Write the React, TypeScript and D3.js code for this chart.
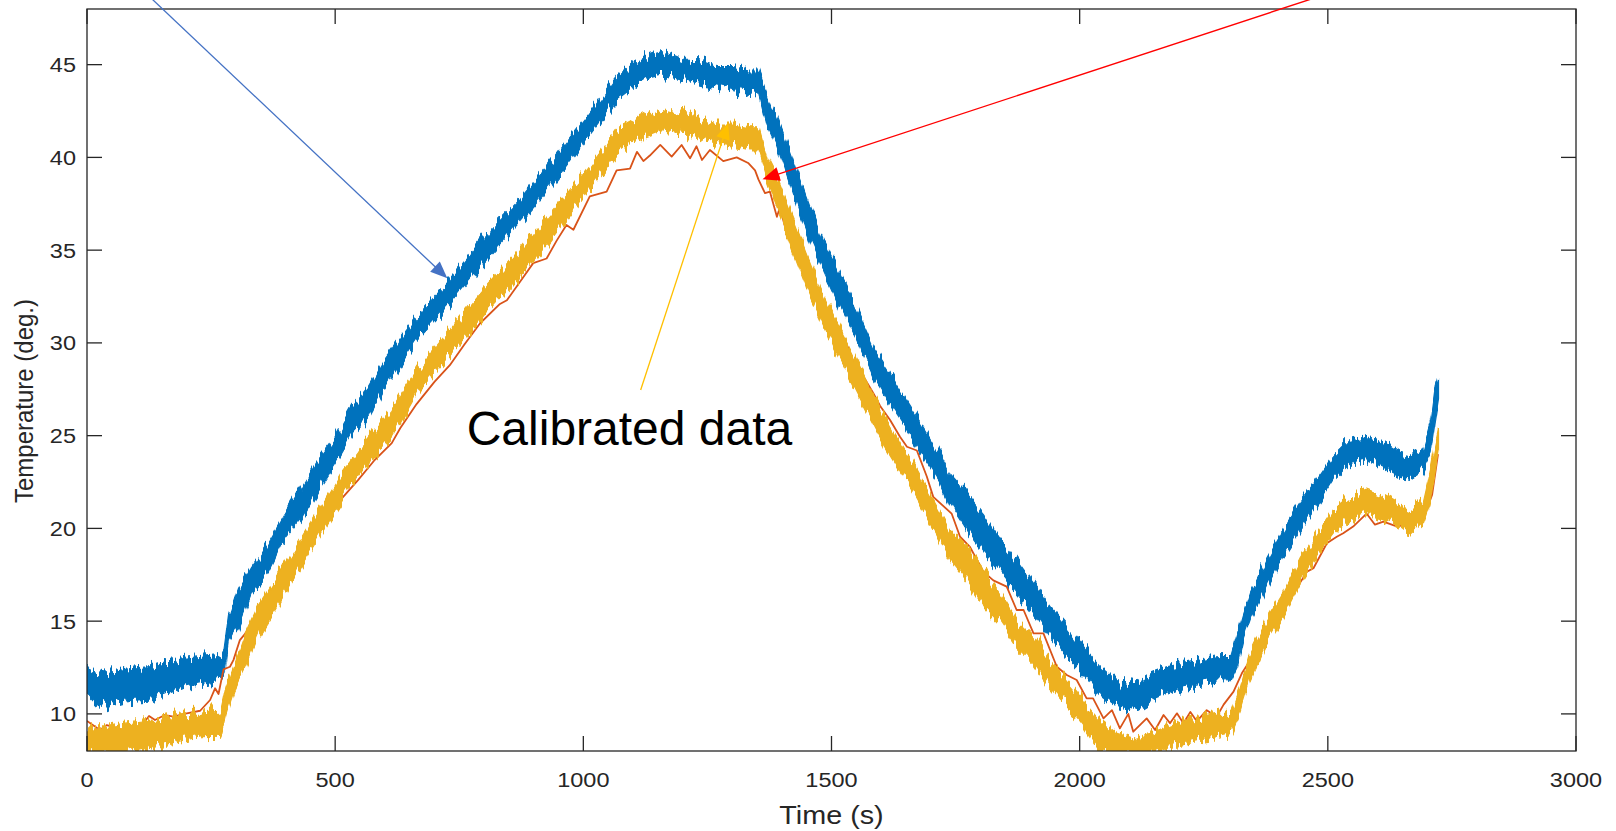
import React from "react";
import * as d3 from "d3";

// ---------- data ----------
const xTicks = [0, 500, 1000, 1500, 2000, 2500, 3000];
const yTicks = [10, 15, 20, 25, 30, 35, 40, 45];

// Raw sensor (blue): sampled time, upper and lower envelope of the noisy trace
const blueT = [0, 18, 36, 57, 77, 103, 130, 164, 197, 231, 265, 276, 285, 305, 332, 365, 399, 433, 466, 500, 533, 567, 597, 664, 731, 799, 866, 933, 1000, 1067, 1101, 1134, 1158, 1201, 1235, 1269, 1302, 1336, 1353, 1370, 1390, 1416, 1437, 1457, 1484, 1517, 1551, 1584, 1618, 1652, 1685, 1719, 1739, 1772, 1806, 1840, 1873, 1907, 1940, 1974, 2007, 2041, 2075, 2108, 2142, 2175, 2209, 2243, 2276, 2305, 2317, 2330, 2344, 2377, 2410, 2444, 2478, 2511, 2545, 2578, 2612, 2646, 2666, 2692, 2706, 2716, 2723];
const blueHi = [12.5, 12.3, 12.2, 12.3, 12.4, 12.5, 12.55, 12.8, 13.0, 13.1, 13.2, 13.3, 15.1, 16.7, 17.9, 19.2, 20.8, 22.25, 23.7, 24.9, 26.5, 27.6, 29.0, 31.4, 33.4, 35.7, 37.5, 39.7, 42.0, 44.35, 45.07, 45.5, 45.7, 45.25, 45.2, 44.9, 44.9, 44.7, 44.7, 43.45, 42.2, 40.4, 38.8, 37.3, 35.5, 33.75, 31.8, 29.8, 28.4, 26.9, 25.5, 24.0, 22.9, 21.9, 20.8, 19.37, 18.3, 17.04, 15.8, 14.7, 13.6, 12.54, 11.8, 11.65, 12.2, 12.54, 12.73, 12.9, 13.08, 13.1, 14.2, 15.4, 16.5, 18.3, 19.9, 21.35, 22.6, 23.9, 24.8, 25.0, 24.6, 24.05, 23.9, 24.2, 25.5, 27.5, 28.2];
const blueLo = [11.1, 10.6, 10.3, 10.5, 10.65, 10.7, 10.75, 11.1, 11.45, 11.65, 11.8, 12.0, 13.8, 14.7, 16.5, 17.6, 19.5, 20.6, 22.1, 23.5, 25.0, 26.0, 27.5, 30.16, 32.1, 34.3, 36.3, 38.4, 40.76, 43.1, 43.8, 44.35, 44.5, 44.2, 44.0, 43.8, 43.6, 43.45, 43.6, 41.8, 40.6, 38.6, 37.0, 35.5, 33.9, 31.95, 30.2, 28.2, 26.7, 25.3, 23.9, 22.5, 21.3, 19.9, 18.66, 17.6, 16.5, 15.4, 14.2, 13.1, 12.2, 11.1, 10.4, 10.2, 10.75, 11.1, 11.47, 11.65, 11.83, 11.85, 12.5, 14.0, 15.06, 16.86, 18.5, 19.9, 21.2, 22.6, 23.5, 23.7, 23.3, 22.8, 22.7, 23.15, 23.9, 25.8, 27.0];

// Calibrated data (yellow): time, upper and lower envelope
const yellowT = [0, 36, 77, 130, 164, 197, 231, 270, 280, 298, 318, 345, 379, 412, 446, 480, 513, 547, 580, 614, 664, 731, 799, 866, 933, 1000, 1067, 1101, 1158, 1201, 1269, 1302, 1336, 1353, 1370, 1396, 1423, 1450, 1477, 1504, 1537, 1571, 1604, 1638, 1672, 1705, 1739, 1772, 1806, 1840, 1873, 1907, 1940, 1974, 2007, 2041, 2075, 2108, 2142, 2175, 2209, 2243, 2276, 2305, 2323, 2344, 2377, 2410, 2444, 2478, 2511, 2545, 2578, 2612, 2646, 2666, 2692, 2706, 2716, 2723];
const yellowHi = [9.3, 9.3, 9.5, 9.67, 9.85, 10.05, 10.1, 10.2, 11.4, 12.7, 14.2, 15.8, 17.2, 18.66, 20.1, 21.5, 23.0, 24.2, 25.3, 26.4, 28.5, 30.7, 32.85, 34.8, 37.0, 39.1, 41.5, 42.0, 42.7, 42.4, 41.8, 41.8, 41.65, 41.65, 40.0, 38.6, 36.7, 34.8, 33.0, 31.5, 29.8, 27.9, 26.3, 24.7, 23.2, 21.6, 19.9, 19.0, 17.76, 16.5, 15.06, 14.2, 12.9, 11.8, 10.75, 9.67, 8.95, 8.7, 8.95, 9.3, 9.67, 9.85, 10.03, 10.03, 11.3, 13.27, 15.06, 16.5, 18.3, 19.7, 21.0, 21.7, 22.07, 21.7, 21.2, 21.0, 21.35, 23.0, 24.4, 25.3];
const yellowLo = [7.8, 7.8, 7.8, 8.16, 8.4, 8.6, 8.77, 8.8, 9.9, 11.4, 12.5, 14.2, 15.6, 17.2, 18.66, 20.1, 21.5, 22.8, 23.9, 24.9, 27.3, 29.3, 31.4, 33.4, 35.5, 37.9, 40.2, 40.9, 41.5, 41.3, 40.76, 40.6, 40.4, 40.4, 38.8, 36.9, 34.9, 33.0, 31.4, 29.8, 28.1, 26.3, 24.6, 23.1, 21.6, 20.0, 18.3, 17.2, 15.8, 14.9, 13.6, 12.7, 11.47, 10.4, 9.3, 7.9, 7.8, 7.8, 7.8, 8.2, 8.4, 8.6, 8.77, 8.95, 10.03, 11.83, 13.8, 15.24, 17.04, 18.5, 19.7, 20.45, 20.8, 20.45, 20.1, 19.7, 20.3, 21.35, 23.0, 24.2];

// Reference sensor (red)
const redT = [0, 26, 40, 73, 87, 107, 125, 137, 157, 174, 201, 228, 248, 258, 265, 275, 288, 295, 308, 318, 345, 379, 412, 446, 480, 513, 546, 580, 614, 631, 664, 700, 731, 760, 792, 832, 846, 870, 899, 926, 946, 966, 980, 1013, 1047, 1067, 1094, 1108, 1121, 1134, 1155, 1178, 1198, 1215, 1228, 1239, 1255, 1282, 1309, 1332, 1346, 1353, 1366, 1376, 1390, 1396, 1410, 1430, 1450, 1463, 1484, 1504, 1517, 1531, 1551, 1564, 1584, 1598, 1618, 1638, 1652, 1672, 1692, 1705, 1742, 1759, 1779, 1806, 1826, 1853, 1873, 1887, 1907, 1927, 1954, 1974, 1994, 2014, 2027, 2048, 2065, 2081, 2098, 2108, 2135, 2152, 2169, 2182, 2196, 2209, 2223, 2236, 2256, 2276, 2290, 2310, 2327, 2344, 2364, 2391, 2410, 2431, 2458, 2471, 2498, 2518, 2531, 2551, 2578, 2595, 2612, 2640, 2666, 2692, 2710, 2722];
const redV = [9.62, 9.13, 9.4, 9.13, 9.3, 9.27, 9.89, 9.67, 9.94, 9.85, 10.03, 10.17, 10.75, 11.38, 11.07, 12.4, 12.54, 12.9, 13.98, 14.3, 15.3, 16.7, 18.1, 19.5, 20.6, 21.6, 22.6, 23.7, 24.6, 25.4, 26.7, 27.9, 28.8, 29.9, 31.06, 32.1, 32.3, 33.2, 34.3, 34.55, 35.5, 36.36, 36.1, 37.9, 38.15, 39.3, 39.4, 40.3, 39.8, 40.1, 40.67, 40.04, 40.67, 39.95, 40.6, 39.86, 40.4, 39.8, 40.0, 39.7, 39.3, 38.8, 38.07, 38.15, 36.8, 37.3, 35.9, 34.65, 33.4, 32.67, 31.95, 31.06, 29.98, 29.9, 28.5, 28.2, 27.3, 26.6, 25.84, 24.94, 24.4, 24.2, 22.8, 21.7, 20.8, 19.55, 19.0, 17.67, 17.2, 16.86, 15.6, 15.6, 14.34, 14.34, 12.54, 12.1, 11.83, 10.84, 10.84, 9.76, 10.2, 9.22, 10.0, 9.04, 9.76, 9.13, 9.94, 9.5, 10.03, 9.5, 10.1, 9.6, 10.2, 9.85, 10.5, 11.2, 12.2, 12.9, 14.0, 14.7, 15.6, 16.5, 17.67, 17.85, 19.2, 19.55, 19.74, 20.1, 20.8, 20.2, 20.36, 20.1, 20.3, 20.5, 21.8, 24.0];

// Annotations, in data units: [tStart, vStart, tTip, vTip]
const blueArrow = [110, 49.07, 726, 33.48];
const redArrow = [2600, 49.71, 1361, 38.82];
const yellowArrow = [1115.5, 27.46, 1291.6, 41.84];
const calibLabel = { text: "Calibrated data", t: 765, v: 24.5 };

const W = 1616;
const H = 831;
const AX = "#262626";
const FONT = "'Liberation Sans', Arial, Helvetica, sans-serif";

const xScale = d3.scaleLinear().domain([0, 3000]).range([87, 1576]);
const yScale = d3.scaleLinear().domain([8, 48]).range([751, 9]);

function Arrow({ a, color, width, len, half }: { a: number[]; color: string; width: number; len: number; half: number }) {
  const x0 = xScale(a[0]), y0 = yScale(a[1]), x1 = xScale(a[2]), y1 = yScale(a[3]);
  const dx = x1 - x0, dy = y1 - y0;
  const L = Math.hypot(dx, dy);
  const ux = dx / L, uy = dy / L;
  const bx = x1 - ux * len, by = y1 - uy * len;
  const px = -uy, py = ux;
  const pts = `${x1},${y1} ${bx + px * half},${by + py * half} ${bx - px * half},${by - py * half}`;
  return (
    <g>
      <line x1={x0} y1={y0} x2={bx + ux * 2} y2={by + uy * 2} stroke={color} strokeWidth={width} />
      <polygon points={pts} fill={color} />
    </g>
  );
}

function JitterFilter({ id, seed }: { id: string; seed: number }) {
  return (
    <filter id={id} filterUnits="userSpaceOnUse" x={0} y={0} width={W} height={H} colorInterpolationFilters="sRGB">
      <feTurbulence type="fractalNoise" baseFrequency="0.3 0.015" numOctaves={2} seed={seed} result="n" />
      <feColorMatrix in="n" type="matrix" values="0 0 0 0 0.5  1 0 0 0 0  0 0 0 0 0  0 0 0 0 1" result="m" />
      <feDisplacementMap in="SourceGraphic" in2="m" scale={24} xChannelSelector="R" yChannelSelector="G" />
    </filter>
  );
}

export default function App() {
  const x = xScale;
  const y = yScale;

  const bluePath = d3
    .area<number>()
    .x((t) => x(t))
    .y0((_, i) => y(blueLo[i]))
    .y1((_, i) => y(blueHi[i]))(blueT) as string;
  const yellowPath = d3
    .area<number>()
    .x((t) => x(t))
    .y0((_, i) => y(yellowLo[i]))
    .y1((_, i) => y(yellowHi[i]))(yellowT) as string;
  const redPath = d3
    .line<number>()
    .x((t) => x(t))
    .y((_, i) => y(redV[i]))(redT) as string;

  const [x0, x1] = x.range();
  const [yb, yt] = y.range();
  const tl = 15;
  const sx = 1.12;

  return (
    <svg
      width={W}
      height={H}
      viewBox={`0 0 ${W} ${H}`}
      style={{ position: "absolute", left: 0, top: 0, background: "#fff" }}
    >
      <rect x={0} y={0} width={W} height={H} fill="#fff" />
      <defs>
        <clipPath id="plot">
          <rect x={x0} y={yt} width={x1 - x0} height={yb - yt} />
        </clipPath>
        <JitterFilter id="jit" seed={4} />
        <JitterFilter id="jit2" seed={11} />
      </defs>

      <g clipPath="url(#plot)">
        <path d={bluePath} fill="#0072BD" stroke="#0072BD" strokeWidth={1.2} strokeLinejoin="round" filter="url(#jit)" />
        <path d={redPath} fill="none" stroke="#D95319" strokeWidth={1.8} strokeLinejoin="round" />
        <path d={yellowPath} fill="#EDB120" stroke="#EDB120" strokeWidth={1.2} strokeLinejoin="round" filter="url(#jit2)" />
      </g>

      {/* axes box */}
      <rect x={x0} y={yt} width={x1 - x0} height={yb - yt} fill="none" stroke={AX} strokeWidth={1.3} />
      {xTicks.map((t) => (
        <g key={"xt" + t}>
          <line x1={x(t)} x2={x(t)} y1={yb} y2={yb - tl} stroke={AX} strokeWidth={1.3} />
          <line x1={x(t)} x2={x(t)} y1={yt} y2={yt + tl} stroke={AX} strokeWidth={1.3} />
          <text
            transform={`translate(${x(t)},${787}) scale(${sx},1)`}
            textAnchor="middle"
            fontFamily={FONT}
            fontSize={21}
            fill={AX}
          >
            {t}
          </text>
        </g>
      ))}
      {yTicks.map((v) => (
        <g key={"yt" + v}>
          <line x1={x0} x2={x0 + tl} y1={y(v)} y2={y(v)} stroke={AX} strokeWidth={1.3} />
          <line x1={x1} x2={x1 - tl} y1={y(v)} y2={y(v)} stroke={AX} strokeWidth={1.3} />
          <text
            transform={`translate(${76},${y(v) + 7.5}) scale(${sx},1)`}
            textAnchor="end"
            fontFamily={FONT}
            fontSize={21}
            fill={AX}
          >
            {v}
          </text>
        </g>
      ))}

      <text
        transform={`translate(${(x0 + x1) / 2},${824}) scale(1.15,1)`}
        textAnchor="middle"
        fontFamily={FONT}
        fontSize={25}
        fill={AX}
      >
        Time (s)
      </text>
      <text
        transform={`translate(${33},${401}) scale(1.1,1) rotate(-90)`}
        textAnchor="middle"
        fontFamily={FONT}
        fontSize={24}
        fill={AX}
      >
        Temperature (deg.)
      </text>

      <Arrow a={blueArrow} color="#4472C4" width={1.3} len={17} half={7} />
      <Arrow a={redArrow} color="#FF0000" width={1.4} len={17} half={7} />
      <Arrow a={yellowArrow} color="#FFC000" width={1.3} len={16} half={7} />

      <text x={x(calibLabel.t)} y={y(calibLabel.v)} fontFamily={FONT} fontSize={48} fill="#000">
        {calibLabel.text}
      </text>
    </svg>
  );
}
